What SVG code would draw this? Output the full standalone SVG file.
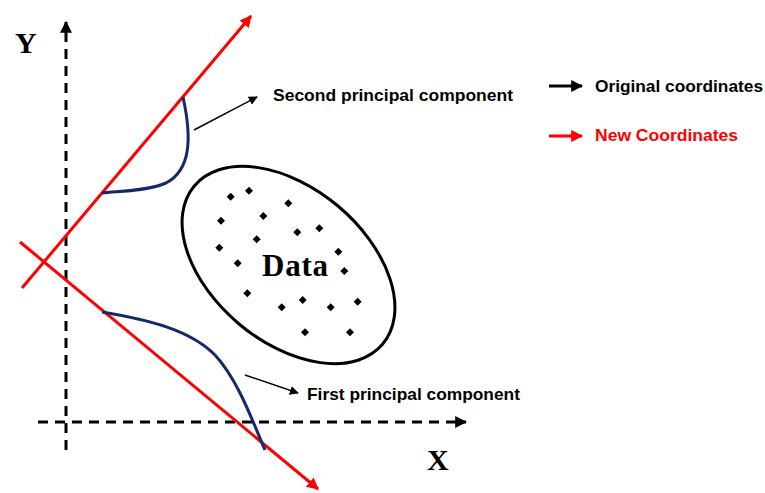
<svg xmlns="http://www.w3.org/2000/svg" width="765" height="493" viewBox="0 0 765 493">
<defs>
<marker id="ab" viewBox="0 0 10 10" refX="9" refY="5" markerWidth="4" markerHeight="4" orient="auto" markerUnits="strokeWidth"><path d="M0,0 L10,5 L0,10 z" fill="#000"/></marker>
<marker id="abt" viewBox="0 0 10 10" refX="9" refY="5" markerWidth="6" markerHeight="6" orient="auto" markerUnits="strokeWidth"><path d="M0,0 L10,5 L0,10 z" fill="#000"/></marker>
<marker id="ar" viewBox="0 0 10 10" refX="9" refY="5" markerWidth="4" markerHeight="4" orient="auto" markerUnits="strokeWidth"><path d="M0,0 L10,5 L0,10 z" fill="#ff0000"/></marker>
</defs>
<style>
.axis{stroke:#000;stroke-width:3;stroke-dasharray:10 7;fill:none}
.red{stroke:#ff0000;stroke-width:3;fill:none}
.blue{stroke:#13296a;stroke-width:3;fill:none}
.thin{stroke:#000;stroke-width:1.5;fill:none}
.lbl{font-family:"Liberation Sans",Arial,sans-serif;font-weight:bold;font-size:17px;fill:#000}
.big{font-family:"Liberation Serif","Times New Roman",serif;font-weight:bold;fill:#000}
.dot{fill:#000}
</style>
<g id="axes">
<line class="axis" x1="66" y1="450" x2="66" y2="22" marker-end="url(#ab)"/>
<line class="axis" x1="38" y1="422" x2="466" y2="422" marker-end="url(#ab)"/>
<text class="big" x="15" y="53" font-size="30">Y</text>
<text class="big" x="427" y="470" font-size="30">X</text>
</g>
<g id="new-axes">
<line class="red" x1="22" y1="288" x2="251" y2="16" marker-end="url(#ar)"/>
<line class="red" x1="20" y1="242" x2="318" y2="489" marker-end="url(#ar)"/>
</g>
<g id="curves">
<path class="blue" d="M183,97 C192,138 191,170 166,183 C145,192 115,191 102,193"/>
<path class="blue" d="M102,312 C150,320 190,330 215,355 C238,380 252,420 265,450"/>
</g>
<g id="data">
<ellipse cx="288.5" cy="265" rx="123" ry="77" transform="rotate(40 288.5 265)" fill="none" stroke="#000" stroke-width="3"/>
<g class="dot">
<path d="M230.7,192.7l4,4l-4,4l-4,-4z"/>
<path d="M249,186.7l4,4l-4,4l-4,-4z"/>
<path d="M288.3,199.3l4,4l-4,4l-4,-4z"/>
<path d="M263.3,212l4,4l-4,4l-4,-4z"/>
<path d="M221,216.7l4,4l-4,4l-4,-4z"/>
<path d="M297.3,228.3l4,4l-4,4l-4,-4z"/>
<path d="M319.3,224.3l4,4l-4,4l-4,-4z"/>
<path d="M256.7,235.3l4,4l-4,4l-4,-4z"/>
<path d="M219.3,243.7l4,4l-4,4l-4,-4z"/>
<path d="M338.3,247.7l4,4l-4,4l-4,-4z"/>
<path d="M237.7,259.3l4,4l-4,4l-4,-4z"/>
<path d="M344.3,267l4,4l-4,4l-4,-4z"/>
<path d="M247.3,289.3l4,4l-4,4l-4,-4z"/>
<path d="M281.7,303.3l4,4l-4,4l-4,-4z"/>
<path d="M302.7,296l4,4l-4,4l-4,-4z"/>
<path d="M330.7,303.3l4,4l-4,4l-4,-4z"/>
<path d="M357.7,297.7l4,4l-4,4l-4,-4z"/>
<path d="M305,328.3l4,4l-4,4l-4,-4z"/>
<path d="M350,328.3l4,4l-4,4l-4,-4z"/>
</g>
<text class="big" x="262" y="276" font-size="31" textLength="66">Data</text>
</g>
<g id="labels">
<line class="thin" x1="194" y1="130" x2="257" y2="97" marker-end="url(#abt)"/>
<text class="lbl" x="273" y="101" textLength="240" lengthAdjust="spacingAndGlyphs">Second principal component</text>
<line class="thin" x1="245" y1="375" x2="298" y2="393" marker-end="url(#abt)"/>
<text class="lbl" x="307" y="400" textLength="213" lengthAdjust="spacingAndGlyphs">First principal component</text>
</g>
<g id="legend">
<line x1="549" y1="86" x2="582" y2="86" stroke="#000" stroke-width="3" marker-end="url(#ab)"/>
<text class="lbl" x="595" y="92" textLength="168" lengthAdjust="spacingAndGlyphs">Original coordinates</text>
<line x1="549" y1="136" x2="582" y2="136" stroke="#ff0000" stroke-width="3" marker-end="url(#ar)"/>
<text class="lbl" x="595" y="141" style="fill:#ff0000" textLength="143" lengthAdjust="spacingAndGlyphs">New Coordinates</text>
</g>
</svg>
